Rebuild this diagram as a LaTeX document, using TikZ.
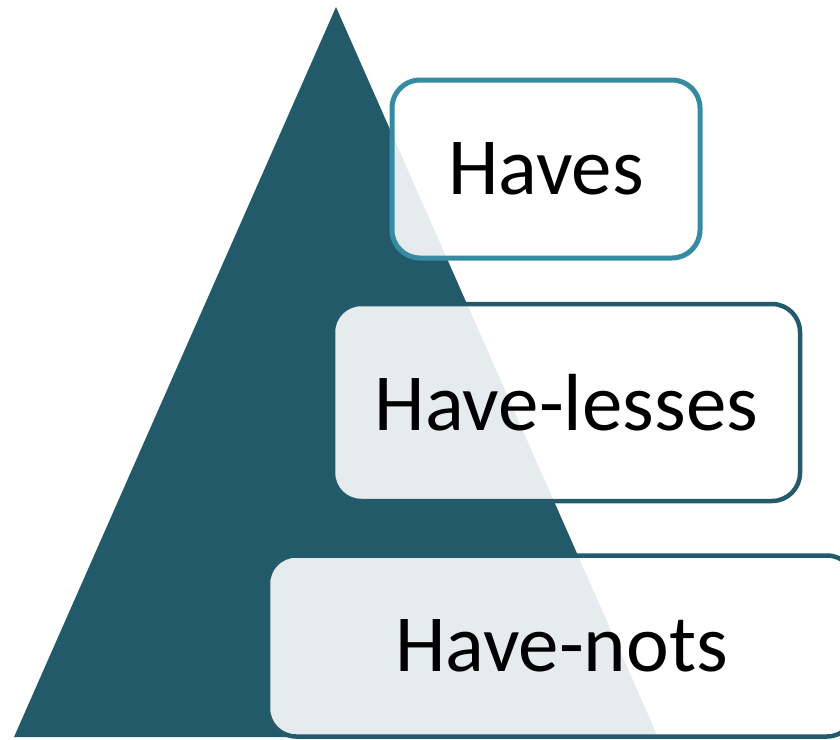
\documentclass[tikz,border=0pt]{standalone}
\usepackage{fontspec}
\setmainfont{Carlito}
\definecolor{tri}{HTML}{235A69}
\definecolor{lightb}{HTML}{368AA1}
\definecolor{darkb}{HTML}{245B6B}
\tikzset{
  tierbox/.style={rectangle, rounded corners=28pt, line width=5pt,
    fill=white, fill opacity=0.89, text opacity=1, inner sep=0pt},
  tiertext/.style={font=\fontsize{81}{90}\selectfont, text=black, inner sep=0pt}
}
\begin{document}
\begin{tikzpicture}[x=1pt,y=-1pt]
\useasboundingbox (0,0) rectangle (840,739);
\clip (0,0) rectangle (840,739);
\fill[tri] (14,737) -- (336,7) -- (658,737) -- cycle;
\node[tierbox, draw=lightb, minimum width=308pt, minimum height=178pt] (haves) at (546,169) {};
\node[tierbox, draw=darkb, line width=4.5pt, minimum width=467pt, minimum height=197pt] (lesses) at (566.5,402.5) {};
\node[tierbox, draw=darkb, line width=4.5pt, minimum width=587pt, minimum height=181pt] (nots) at (561.5,646) {};
\node[tiertext] (t1) at (haves.center) {Haves};
\node[tiertext] (t2) at (lesses.center) {Have-lesses};
\node[tiertext] (t3) at (nots.center) {Have-nots};
\end{tikzpicture}
\end{document}
